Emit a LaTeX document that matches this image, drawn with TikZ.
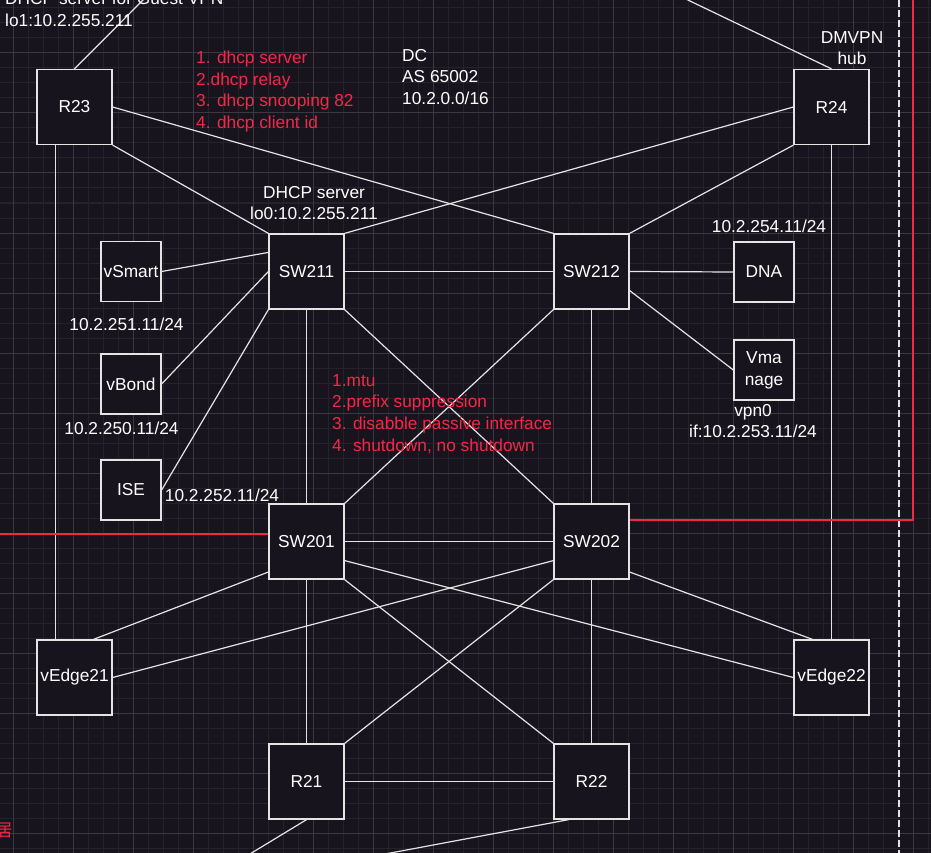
\documentclass[tikz,border=0pt]{standalone}
\usepackage{fontspec}
\setmainfont{Liberation Sans}
\newfontfamily\cjkfont{Noto Sans CJK SC}
\usepackage{tikz}
\usetikzlibrary{positioning}
\usetikzlibrary{calc}
\definecolor{bgdark}{RGB}{24,20,29}
\definecolor{gridminor}{RGB}{38,34,44}
\definecolor{gridmajor}{RGB}{60,56,66}
\definecolor{wire}{RGB}{228,228,228}
\definecolor{notered}{RGB}{242,40,72}
\newcommand{\devfont}{\fontsize{17.3}{21.7}\selectfont}
\tikzset{every picture/.style={x=1pt,y=-1pt},
  dev/.style={draw=wire,line width=1.3pt,fill=bgdark,text=white,minimum width=75,minimum height=75,inner sep=0pt,align=center,font=\devfont},
  ctl/.style={dev,minimum width=60,minimum height=60},
  link/.style={draw=wire,line width=1.2pt},
  txt/.style={text=white,font=\devfont,inner sep=0pt,align=center},
  note/.style={text=notered,font=\devfont,inner sep=0pt,align=left},
  redline/.style={draw=notered,line width=1.4pt}}

\begin{document}
\begin{tikzpicture}
\useasboundingbox (0,0) rectangle (931,853);
\clip (0,0) rectangle (931,853);
\fill[bgdark] (0,0) rectangle (931,853);
\foreach \x in {-2,13,...,928} \draw[gridminor,line width=1pt] (\x,0) -- (\x,853);
\foreach \y in {8,23,...,848} \draw[gridminor,line width=1pt] (0,\y) -- (931,\y);
\foreach \x in {13,73,...,913} \draw[gridmajor,line width=1pt] (\x,0) -- (\x,853);
\foreach \y in {53,113,...,833} \draw[gridmajor,line width=1pt] (0,\y) -- (931,\y);

\coordinate (dashtop) at (899,0);
\coordinate (dashbot) at (899,853);
\draw[wire,line width=1.4pt,dash pattern=on 7pt off 3pt] (dashtop) -- (dashbot);

\node[dev] (R23) at (74.5,107) {R23};
\node[dev] (R24) at (831.5,107) {R24};
\node[dev] (SW211) at (306.5,271.5) {SW211};
\node[dev] (SW212) at (591.5,271.5) {SW212};
\node[dev] (SW201) at (306.5,541.5) {SW201};
\node[dev] (SW202) at (591.5,541.5) {SW202};
\node[dev] (vEdge21) at (74.5,677.5) {vEdge21};
\node[dev] (vEdge22) at (831.5,677.5) {vEdge22};
\node[dev] (R21) at (306.5,781.5) {R21};
\node[dev] (R22) at (591.5,781.5) {R22};
\node[ctl] (vSmart) at (131,271.5) {vSmart};
\node[ctl] (vBond) at (131,384) {vBond};
\node[ctl] (ISE) at (131,490) {ISE};
\node[ctl] (DNA) at (764,272) {DNA};
\node[ctl] (Vmanage) at (764,370) {Vma\\nage};

\coordinate (guestvpn) at (153,-10);
\coordinate (hubup) at (667,-10);
\coordinate (r21out) at (240,860);
\coordinate (r22out) at (353,860);
\draw[link] (R23.north) -- (guestvpn);
\draw[link] (R24.north) -- (hubup);
\draw[link] (R23.south east) -- (SW211.north west);
\draw[link] (R23.east) -- (SW212.north west);
\draw[link] (R24.west) -- (SW211.north east);
\draw[link] (R24.south west) -- (SW212.north east);
\draw[link] ($(R23.south west)!0.25!(R23.south east)$) -- ($(vEdge21.north west)!0.25!(vEdge21.north east)$);
\draw[link] (R24.south) -- (vEdge22.north);
\draw[link] (SW211) -- (SW212);
\draw[link] (SW211) -- (SW201);
\draw[link] (SW212) -- (SW202);
\draw[link] (SW201) -- (SW202);
\draw[link] (SW211.south east) -- (SW202.north west);
\draw[link] (SW212.south west) -- (SW201.north east);
\draw[link] (vSmart.east) -- ($(SW211.north west)!0.25!(SW211.south west)$);
\draw[link] (vBond.east) -- (SW211.west);
\draw[link] (ISE.east) -- (SW211.south west);
\draw[link] (SW212.east) -- (DNA.west);
\draw[link] ($(SW212.east)!0.5!(SW212.south east)$) -- (Vmanage.west);
\draw[link] ($(SW201.west)!0.8!(SW201.south west)$) -- ($(vEdge21.north)!0.5!(vEdge21.north east)$);
\draw[link] ($(SW202.west)!0.5!(SW202.south west)$) -- (vEdge21.east);
\draw[link] ($(SW201.east)!0.5!(SW201.south east)$) -- (vEdge22.west);
\draw[link] ($(SW202.east)!0.8!(SW202.south east)$) -- ($(vEdge22.north)!0.5!(vEdge22.north west)$);
\draw[link] (SW201) -- (R21);
\draw[link] (SW202) -- (R22);
\draw[link] (SW201.south east) -- (R22.north west);
\draw[link] (SW202.south west) -- (R21.north east);
\draw[link] (R21) -- (R22);
\draw[link] (R21.south) -- (r21out);
\draw[link] ($(R22.south west)!0.4!(R22.south)$) -- (r22out);

\coordinate (redleft) at (0,534);
\coordinate (redcorner) at (913,520);
\coordinate (redtop) at (913,-2);
\draw[redline] (redleft) -- (redleft -| SW201.west);
\draw[redline] (redcorner -| SW202.east) -- (redcorner) -- (redtop);

\node[txt,anchor=west,align=left] (guestlbl) at (5,9) {DHCP server for Guest VPN\\lo1:10.2.255.211};
\node[txt] (dhcplbl) at (314,203) {DHCP server\\lo0:10.2.255.211};
\node[txt,anchor=west,align=left] (dclbl) at (402,77) {DC\\AS 65002\\10.2.0.0/16};
\node[txt] (hublbl) at (852,48) {DMVPN\\hub};
\node[txt] (dnaip) at (769,226) {10.2.254.11/24};
\node[txt] (vmip) at (753,421) {vpn0\\if:10.2.253.11/24};
\node[txt] (vsmartip) at (126.5,324) {10.2.251.11/24};
\node[txt] (vbondip) at (121.5,428) {10.2.250.11/24};
\node[txt] (iseip) at (222,495) {10.2.252.11/24};
\node[note,anchor=west] (dhcpnote) at (196,91.5) {1. dhcp server\\2.dhcp relay\\3. dhcp snooping 82\\4. dhcp client id};
\node[note,anchor=west] (ospfnote) at (332,414) {1.mtu\\2.prefix suppression\\3. disabble passive interface\\4. shutdown, no shutdown};
\node[note,anchor=east,font=\cjkfont\devfont] (cutnote) at (13,830) {居};
\node[note,anchor=base west] (cutnote2) at (-4,866) {http tag};
\end{tikzpicture}
\end{document}
